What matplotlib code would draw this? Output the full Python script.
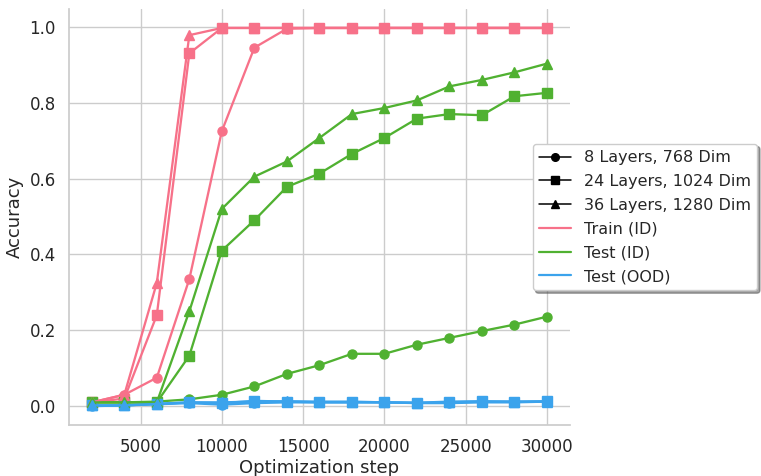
import matplotlib
matplotlib.use("Agg")
import matplotlib.pyplot as plt
import seaborn as sns
from matplotlib.lines import Line2D

sns.set_theme(style="whitegrid")

steps = [2000, 4000, 6000, 8000, 10000, 12000, 14000, 16000, 18000, 20000, 22000, 24000, 26000, 28000, 30000]
models = ["8 Layers, 768 Dim", "24 Layers, 1024 Dim", "36 Layers, 1280 Dim"]
markers = ["o", "s", "^"]
splits = ["Train (ID)", "Test (ID)", "Test (OOD)"]

train_id = [
    [0.01, 0.03, 0.075, 0.335, 0.725, 0.945, 0.995, 0.997, 0.997, 0.997, 0.997, 0.997, 0.997, 0.997, 0.997],
    [0.01, 0.02, 0.24, 0.93, 0.997, 0.997, 0.997, 0.997, 0.997, 0.997, 0.997, 0.997, 0.997, 0.997, 0.997],
    [0.01, 0.03, 0.325, 0.978, 0.997, 0.997, 0.997, 0.997, 0.997, 0.997, 0.997, 0.997, 0.997, 0.997, 0.997],
]
test_id = [
    [0.01, 0.01, 0.012, 0.018, 0.03, 0.052, 0.085, 0.108, 0.138, 0.138, 0.162, 0.18, 0.198, 0.215, 0.236],
    [0.01, 0.01, 0.01, 0.133, 0.41, 0.49, 0.578, 0.613, 0.665, 0.707, 0.758, 0.77, 0.767, 0.817, 0.826],
    [0.01, 0.01, 0.01, 0.25, 0.52, 0.605, 0.645, 0.707, 0.77, 0.786, 0.806, 0.843, 0.86, 0.88, 0.903],
]
test_ood = [
    [0.0, 0.002, 0.005, 0.008, 0.004, 0.008, 0.01, 0.01, 0.01, 0.01, 0.008, 0.008, 0.01, 0.01, 0.012],
    [0.002, 0.002, 0.006, 0.01, 0.008, 0.014, 0.012, 0.01, 0.01, 0.01, 0.009, 0.012, 0.013, 0.012, 0.013],
    [0.002, 0.002, 0.006, 0.01, 0.01, 0.012, 0.013, 0.012, 0.012, 0.01, 0.009, 0.01, 0.012, 0.012, 0.012],
]

colors = sns.color_palette("husl", 3)

fig = plt.figure(figsize=(7.61, 4.76), dpi=100)
ax = fig.add_axes([0.0907, 0.107, 0.658, 0.874])

for m in range(3):
    for s, data in enumerate([train_id, test_id, test_ood]):
        ax.plot(steps, data[m], color=colors[s], marker=markers[m],
                markersize=6.5, linewidth=1.65)

ax.set_xlabel("Optimization step", fontsize=13, labelpad=2)
ax.set_ylabel("Accuracy", fontsize=13)
ax.set_xticks([5000, 10000, 15000, 20000, 25000, 30000])
ax.set_yticks([0.0, 0.2, 0.4, 0.6, 0.8, 1.0])
ax.tick_params(labelsize=12)
ax.spines["top"].set_visible(False)
ax.spines["right"].set_visible(False)
for sp in ax.spines.values():
    sp.set_color("#cccccc")

handles = [Line2D([0], [0], color="black", marker=mk, markersize=5.5, linewidth=1.1) for mk in markers]
handles += [Line2D([0], [0], color=c, linewidth=1.6) for c in colors]
ax.legend(handles, models + splits, loc="center left", bbox_to_anchor=(0.91, 0.5),
          fontsize=11.5, labelspacing=0.55, shadow=True, framealpha=1.0)

fig.savefig("out.png", dpi=100)
